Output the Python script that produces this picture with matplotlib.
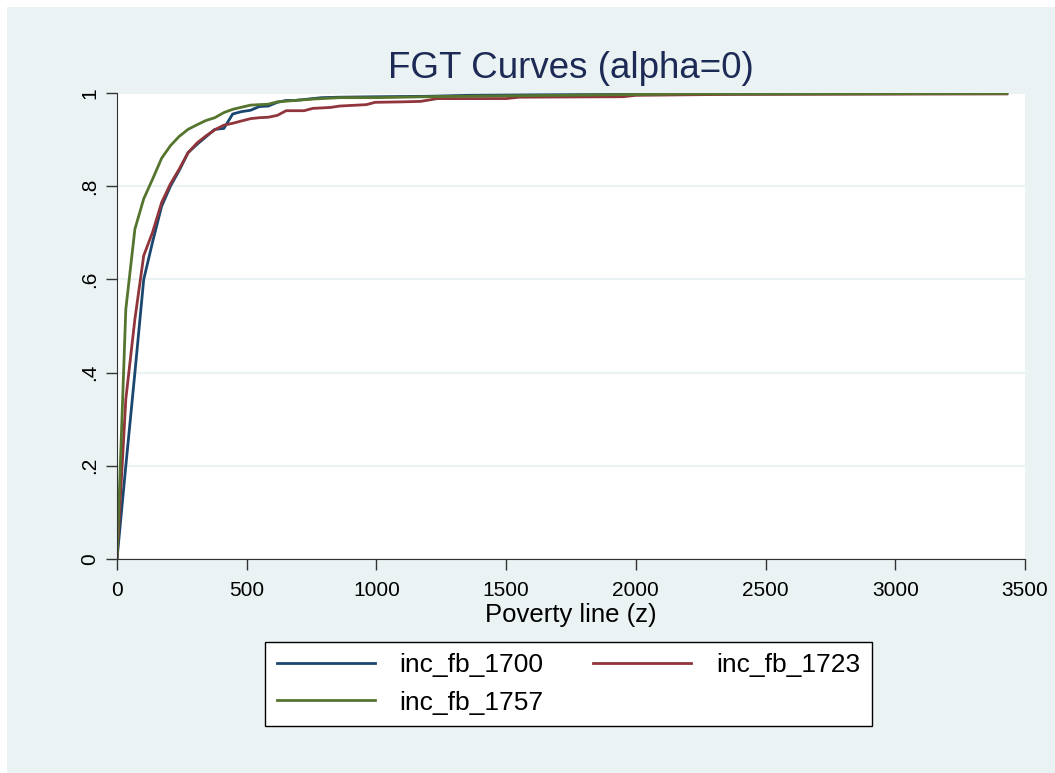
import matplotlib
matplotlib.use('Agg')
import matplotlib.pyplot as plt
from matplotlib.patches import Rectangle

# 곡선 데이터
x_1700 = [0, 34, 69, 103, 137, 172, 206, 240, 274, 309, 343, 377, 412, 446, 480, 515,
          549, 583, 618, 652, 686, 721, 789, 858, 1000, 1200, 1350, 1600, 2000, 2400, 3430]
y_1700 = [0, 0.20, 0.40, 0.60, 0.68, 0.757, 0.80, 0.834, 0.872, 0.890, 0.906, 0.922,
          0.924, 0.955, 0.960, 0.963, 0.971, 0.972, 0.980, 0.984, 0.984, 0.986, 0.990,
          0.991, 0.992, 0.993, 0.995, 0.996, 0.997, 0.998, 0.999]

x_1723 = [0, 34, 69, 103, 137, 172, 206, 240, 274, 309, 343, 377, 412, 446, 480, 515,
          549, 583, 618, 652, 721, 755, 823, 858, 961, 995, 1100, 1170, 1235, 1500, 1550,
          1950, 2000, 2350, 3430]
y_1723 = [0, 0.343, 0.515, 0.651, 0.701, 0.765, 0.805, 0.837, 0.872, 0.893, 0.908, 0.921,
          0.931, 0.935, 0.940, 0.945, 0.947, 0.948, 0.952, 0.962, 0.962, 0.967, 0.969,
          0.972, 0.975, 0.980, 0.981, 0.982, 0.988, 0.988, 0.991, 0.992, 0.995, 0.997, 0.998]

x_1757 = [0, 34, 69, 103, 137, 172, 206, 240, 274, 309, 343, 377, 412, 446, 515, 583,
          618, 686, 755, 858, 1000, 1300, 1700, 2200, 3430]
y_1757 = [0, 0.536, 0.708, 0.773, 0.815, 0.860, 0.887, 0.907, 0.922, 0.932, 0.941, 0.947,
          0.958, 0.965, 0.974, 0.976, 0.981, 0.984, 0.987, 0.990, 0.990, 0.993, 0.995,
          0.998, 0.999]

series_names = ['inc_fb_1700', 'inc_fb_1723', 'inc_fb_1757']
x_ticks = [0, 500, 1000, 1500, 2000, 2500, 3000, 3500]
y_ticks = [0, 0.2, 0.4, 0.6, 0.8, 1]
y_tick_labels = ['0', '.2', '.4', '.6', '.8', '1']

# 시각화 설정
plt.rcParams['font.family'] = ['Liberation Sans', 'DejaVu Sans']
bg = '#eaf2f3'

fig = plt.figure(figsize=(10.55, 7.73), dpi=100)
fig.patch.set_facecolor('white')
fig.add_artist(Rectangle((7 / 1055, 0), 1, 1 - 7 / 773, transform=fig.transFigure,
                         facecolor=bg, edgecolor='none', zorder=0))

ax = fig.add_axes([117 / 1055, 1 - 559 / 773, 908 / 1055, 466 / 773])
ax.set_facecolor('white')

l1, = ax.plot(x_1700, y_1700, color='#1a476f', lw=2, label=series_names[0])
l2, = ax.plot(x_1723, y_1723, color='#90353b', lw=2, label=series_names[1])
l3, = ax.plot(x_1757, y_1757, color='#55752f', lw=2, label=series_names[2])

ax.set_xlim(0, 3500)
ax.set_ylim(0, 1)
ax.set_xticks(x_ticks)
ax.set_yticks(y_ticks)
ax.set_yticklabels(y_tick_labels, rotation=90, va='center')
ax.tick_params(axis='both', length=8, width=1, color='#333333', labelsize=15, pad=5)
ax.tick_params(axis='x', pad=8)
ax.grid(axis='y', color=bg, lw=1.5)
ax.set_axisbelow(True)
for side in ['top', 'right']:
    ax.spines[side].set_visible(False)
ax.spines['left'].set_color('#333333')
ax.spines['bottom'].set_color('#333333')

ax.set_xlabel('Poverty line (z)', fontsize=18.5, labelpad=2)
ax.set_title('FGT Curves (alpha=0)', fontsize=26.5, color='#1c2a55', pad=11)

# 범례: 행 순서대로 (1700, 1723 / 1757)
leg = fig.legend([l1, l3, l2], [series_names[0], series_names[2], series_names[1]],
                 loc='center', ncol=2, mode='expand',
                 bbox_to_anchor=(265 / 1055, 1 - 727 / 773, 607 / 1055, 86 / 773),
                 fontsize=19, frameon=True, fancybox=False, framealpha=1,
                 handlelength=3.7, handletextpad=0.95, borderpad=0.45,
                 labelspacing=0.5, borderaxespad=0)
leg.get_frame().set_edgecolor('black')
leg.get_frame().set_linewidth(1)

plt.savefig('out.png', dpi=100, facecolor=fig.get_facecolor())
